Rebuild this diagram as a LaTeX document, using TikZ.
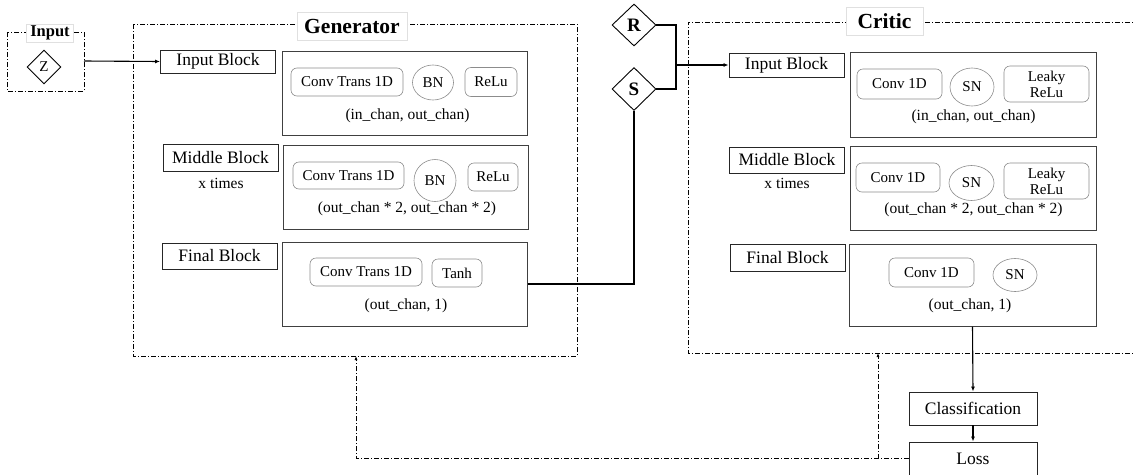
\documentclass[tikz,border=0pt]{standalone}
\usepackage{fontspec}
\setmainfont{Liberation Serif}
\usetikzlibrary{shapes.geometric,arrows.meta}

\tikzset{
  lblbox/.style={draw=black!85, line width=0.9pt, inner sep=0pt, minimum width=115pt,
    font=\fontsize{17.5}{20}\selectfont},
  blkbox/.style={draw=black!75, line width=1pt, inner sep=0pt, minimum width=245pt, minimum height=84pt},
  opbox/.style={draw=black!45, line width=0.6pt, rounded corners=6pt, inner sep=0pt,
    font=\fontsize{15}{16}\selectfont, align=center},
  opell/.style={ellipse, draw=black!45, line width=0.6pt, inner sep=0pt,
    font=\fontsize{15}{16}\selectfont},
  note/.style={inner sep=0pt, font=\fontsize{15.5}{17}\selectfont},
  frame/.style={line width=0.9pt, dash pattern=on 5pt off 2pt on 1pt off 2pt},
  tab/.style={fill=white, draw=black!12, line width=0.5pt, inner sep=0pt, font=\bfseries},
  gate/.style={diamond, aspect=1, draw, line width=0.9pt, inner sep=0pt},
  wire/.style={line width=1.1pt},
  flow/.style={line width=1.1pt, -{Latex[length=5pt,width=4pt]}},
  back/.style={line width=0.9pt, dash pattern=on 5pt off 2pt on 1pt off 2pt, -{Latex[length=4pt,width=3pt]}},
}

\begin{document}
\begin{tikzpicture}[x=1pt,y=-1pt]
\useasboundingbox (0,0) rectangle (1134,474);

% ---------- latent input ----------
\draw[frame] (7,32) rectangle (84,91);
\node[tab, minimum width=47pt, minimum height=18pt, font=\bfseries\fontsize{16.5}{18}\selectfont] (intitle) at (50,33) {Input};
\node[gate, minimum width=34pt, minimum height=34pt, font=\fontsize{15}{16}\selectfont] (z) at (44,67) {Z};
\coordinate (inout) at (84,61);

% ---------- generator ----------
\draw[frame] (133,24) rectangle (577,356);
\node[tab, minimum width=110pt, minimum height=28pt, font=\bfseries\fontsize{21.5}{24}\selectfont] (gtitle) at (352,26) {Generator};

\node[lblbox, minimum height=23pt] (gin) at (218,61.5) {Input Block};
\node[blkbox] (ginb) at (405,93) {};
\node[opbox, minimum width=112pt, minimum height=28pt] (gic) at (347,82) {Conv Trans 1D};
\node[opell, minimum width=41pt, minimum height=35pt] (gibn) at (433,82.5) {BN};
\node[opbox, minimum width=52pt, minimum height=29pt] (gir) at (491,82) {ReLu};
\node[note] (gis) at (407.5,116) {(in\_chan, out\_chan)};

\node[lblbox, minimum height=27pt] (gmid) at (220.5,157.5) {Middle Block};
\node[note] (gx) at (221,183) {x times};
\node[blkbox] (gmidb) at (405.5,187) {};
\node[opbox, minimum width=111pt, minimum height=27pt] (gmc) at (348.5,175.5) {Conv Trans 1D};
\node[opell, minimum width=42pt, minimum height=42pt] (gmbn) at (435,180.5) {BN};
\node[opbox, minimum width=50pt, minimum height=28pt] (gmr) at (493,177) {ReLu};
\node[note] (gms) at (407,209) {(out\_chan * 2, out\_chan * 2)};

\node[lblbox, minimum height=26pt] (gfin) at (219.5,256) {Final Block};
\node[blkbox] (gfinb) at (404.5,284) {};
\node[opbox, minimum width=112pt, minimum height=28pt] (gfc) at (366,272) {Conv Trans 1D};
\node[opbox, minimum width=50pt, minimum height=28pt] (gft) at (457,273) {Tanh};
\node[note] (gfs) at (406,306) {(out\_chan, 1)};

% ---------- real / synthetic selector ----------
\node[gate, minimum width=44pt, minimum height=42pt, font=\bfseries\fontsize{19}{21}\selectfont] (r) at (634,25) {R};
\node[gate, minimum width=44pt, minimum height=43pt, font=\bfseries\fontsize{19}{21}\selectfont] (s) at (634,89) {S};
\coordinate (join) at (676,65);

% ---------- critic ----------
\draw[frame] (1140,22) -- (688,22) -- (688,353) -- (1140,353);
\node[tab, minimum width=77pt, minimum height=28pt, font=\bfseries\fontsize{21.5}{24}\selectfont] (ctitle) at (884.5,21) {Critic};

\node[lblbox, minimum height=24pt] (cin) at (786.5,65) {Input Block};
\node[blkbox, minimum width=246pt, minimum height=85pt] (cinb) at (973,94.5) {};
\node[opbox, minimum width=85pt, minimum height=30pt] (cic) at (899.5,84) {Conv 1D};
\node[opell, minimum width=44pt, minimum height=38pt] (cisn) at (972,87) {SN};
\node[opbox, minimum width=85pt, minimum height=36pt, font=\fontsize{15}{16}\selectfont] (cil) at (1046.5,84) {Leaky\\ReLu};
\node[note] (cis) at (973.5,117) {(in\_chan, out\_chan)};

\node[lblbox, minimum height=26pt] (cmid) at (787,160) {Middle Block};
\node[note] (cx) at (787,183) {x times};
\node[blkbox, minimum width=246pt] (cmidb) at (973,188.5) {};
\node[opbox, minimum width=84pt, minimum height=29pt] (cmc) at (898,177.5) {Conv 1D};
\node[opell, minimum width=45pt, minimum height=35pt] (cmsn) at (971.5,183) {SN};
\node[opbox, minimum width=85pt, minimum height=36pt, font=\fontsize{15}{16}\selectfont] (cml) at (1046.5,181) {Leaky\\ReLu};
\node[note] (cms) at (973.5,210) {(out\_chan * 2, out\_chan * 2)};

\node[lblbox, minimum height=27pt] (cfin) at (787.5,257.5) {Final Block};
\node[blkbox, minimum width=247pt, minimum height=82pt] (cfinb) at (972.5,285) {};
\node[opbox, minimum width=85pt, minimum height=29pt] (cfc) at (931.5,272.5) {Conv 1D};
\node[opell, minimum width=44pt, minimum height=33pt] (cfsn) at (1015,275) {SN};
\node[note] (cfs) at (970,306) {(out\_chan, 1)};

% ---------- loss ----------
\node[lblbox, minimum width=128pt, minimum height=33pt] (cls) at (973,408.5) {Classification};
\node[lblbox, minimum width=128pt, minimum height=33pt] (loss) at (973,458.5) {Loss};

% ---------- connectors ----------
\draw[flow] (inout) -- (gin.west);
\draw[wire] (gfinb.east |- 0,284) -| (s.south);
\draw[wire] (r.east) -| (join);
\draw[wire] (s.east) -| (join);
\draw[flow] (join) -- (cin.west |- join);
\draw[flow] (cfinb.south) -- (cls.north);
\draw[flow] (cls.south) -- (loss.north);
\coordinate (gback) at (356,356);
\coordinate (cback) at (878,353);
\draw[back] (loss.west) -| (gback);
\draw[back] (cback |- loss.west) -- (cback);
\end{tikzpicture}
\end{document}
